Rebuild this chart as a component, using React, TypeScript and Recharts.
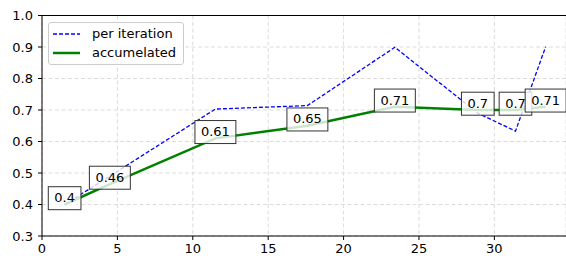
import React from 'react';
import { LineChart, Line, XAxis, YAxis, CartesianGrid, ReferenceLine, LabelList, Legend } from 'recharts';

const iterations = [1.5, 4.5, 11.5, 17.6, 23.4, 28.9, 31.4, 33.4];
const perIteration = [0.40, 0.49, 0.703, 0.714, 0.899, 0.69, 0.633, 0.901];
const accumulated = [0.40, 0.465, 0.61, 0.65, 0.71, 0.70, 0.70, 0.71];
const accumulatedLabels = ['0.4', '0.46', '0.61', '0.65', '0.71', '0.7', '0.7', '0.71'];
const xTicks = [0, 5, 10, 15, 20, 25, 30];
const yTicks = [0.3, 0.4, 0.5, 0.6, 0.7, 0.8, 0.9, 1.0];
const seriesNames = ['per iteration', 'accumelated'];
const seriesColors = ['#0000ff', '#008000'];

const data = iterations.map((x, i) => ({
  x,
  per: perIteration[i],
  acc: accumulated[i],
  label: accumulatedLabels[i],
}));

const FONT = '"DejaVu Sans", sans-serif';

const charW = (s: string) => {
  let w = 0;
  for (const c of s) w += c === '.' ? 0.318 : 0.636;
  return w * 13;
};

const BoxLabel = (props: any) => {
  const { x, y, value } = props;
  if (x == null || y == null) return null;
  const s = String(value);
  const w = charW(s) + 12;
  const base = y - 2.3;
  return (
    <g>
      <rect x={x - w / 2} y={base - 15.5} width={w} height={23} fill="#ffffff" fillOpacity={0.8} stroke="#333333" strokeWidth={1} />
      <text x={x} y={base} textAnchor="middle" fontSize={13} fontFamily={FONT} fill="#000">{s}</text>
    </g>
  );
};

const LegendBox = () => (
  <div style={{ position: 'relative', width: 136, height: 43, border: '1px solid #cccccc', borderRadius: 3, background: 'rgba(255,255,255,0.8)', boxSizing: 'border-box', fontFamily: FONT, fontSize: 13 }}>
    {seriesNames.map((name, i) => (
      <div key={name} style={{ position: 'absolute', left: 4, top: 11 - 9 + i * 19.4, height: 18, display: 'flex', alignItems: 'center', whiteSpace: 'nowrap' }}>
        <svg width={28} height={18} style={{ display: 'block' }}>
          <line x1={0} x2={27} y1={9} y2={9} stroke={seriesColors[i]} strokeWidth={i === 0 ? 1.3 : 2.5} strokeDasharray={i === 0 ? '4 2' : undefined} />
        </svg>
        <span style={{ marginLeft: 11, color: '#000', lineHeight: '18px' }}>{name}</span>
      </div>
    ))}
  </div>
);

export default function App() {
  return (
    <div style={{ position: 'absolute', left: 0, top: 0, width: 566, height: 256, background: '#fff' }}>
      <LineChart width={566} height={256} data={data} margin={{ top: 15.5, right: 0, bottom: 0, left: 0 }}>
        <CartesianGrid stroke="#dcdcdc" strokeDasharray="4 2.5" />
        <XAxis
          dataKey="x"
          type="number"
          domain={[0, 34.75]}
          ticks={xTicks}
          allowDataOverflow
          height={20}
          tickSize={4}
          tickMargin={4}
          stroke="#000"
          tick={{ fill: '#000', fontSize: 13, fontFamily: FONT }}
        />
        <YAxis
          type="number"
          domain={[0.3, 1.0]}
          ticks={yTicks}
          allowDataOverflow
          width={42}
          tickSize={4}
          tickMargin={5}
          stroke="#000"
          tickFormatter={(v: number) => v.toFixed(1)}
          tick={{ fill: '#000', fontSize: 13, fontFamily: FONT }}
        />
        <ReferenceLine y={1.0} stroke="#000" strokeWidth={1} ifOverflow="extendDomain" />
        <Legend layout="vertical" align="center" verticalAlign="middle" content={() => <LegendBox />} wrapperStyle={{ left: 48, top: 22, width: 136, height: 43 }} />
        <Line type="linear" dataKey="per" name={seriesNames[0]} stroke={seriesColors[0]} strokeWidth={1.3} strokeDasharray="4 2" dot={false} isAnimationActive={false} />
        <Line type="linear" dataKey="acc" name={seriesNames[1]} stroke={seriesColors[1]} strokeWidth={2.5} dot={false} isAnimationActive={false}>
          <LabelList dataKey="label" content={BoxLabel} />
        </Line>
      </LineChart>
    </div>
  );
}
